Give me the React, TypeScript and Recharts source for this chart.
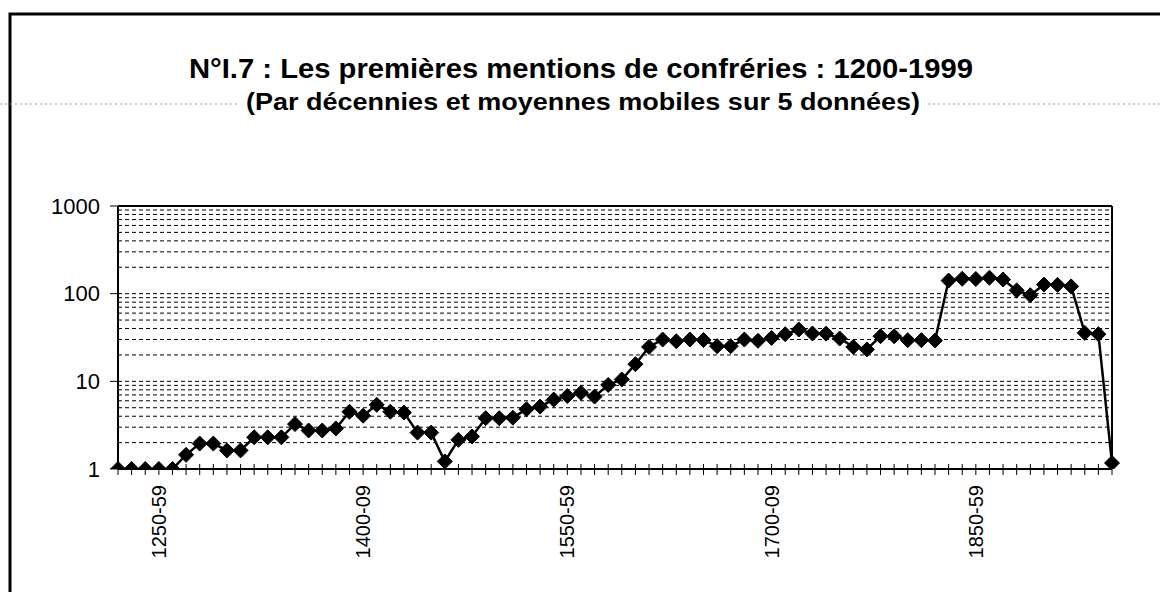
import React from "react";
import { LineChart, Line, XAxis, YAxis, ReferenceLine } from "recharts";

// decades (one point per decade, 5-value moving averages)
const decades = [
  "1220-29", "1230-39", "1240-49", "1250-59", "1260-69", "1270-79", "1280-89", "1290-99",
  "1300-09", "1310-19", "1320-29", "1330-39", "1340-49", "1350-59", "1360-69", "1370-79",
  "1380-89", "1390-99", "1400-09", "1410-19", "1420-29", "1430-39", "1440-49", "1450-59",
  "1460-69", "1470-79", "1480-89", "1490-99", "1500-09", "1510-19", "1520-29", "1530-39",
  "1540-49", "1550-59", "1560-69", "1570-79", "1580-89", "1590-99", "1600-09", "1610-19",
  "1620-29", "1630-39", "1640-49", "1650-59", "1660-69", "1670-79", "1680-89", "1690-99",
  "1700-09", "1710-19", "1720-29", "1730-39", "1740-49", "1750-59", "1760-69", "1770-79",
  "1780-89", "1790-99", "1800-09", "1810-19", "1820-29", "1830-39", "1840-49", "1850-59",
  "1860-69", "1870-79", "1880-89", "1890-99", "1900-09", "1910-19", "1920-29", "1930-39",
  "1940-49", "1950-59",
];

const mentions = [
  1, 1, 1, 1, 1, 1.45, 1.95, 1.95,
  1.63, 1.63, 2.3, 2.3, 2.3, 3.25, 2.75, 2.75,
  2.9, 4.5, 4.05, 5.4, 4.5, 4.4, 2.6, 2.6,
  1.22, 2.15, 2.35, 3.8, 3.8, 3.85, 4.8, 5.15,
  6.2, 6.8, 7.4, 6.7, 9.1, 10.5, 15.7, 24.7,
  30, 28.7, 30, 29.6, 25.2, 25.2, 30, 29,
  31.3, 34.5, 39, 35.1, 35, 30.8, 24.7, 23.1,
  32.7, 32.7, 29.5, 29.5, 29.2, 141, 148, 147,
  152, 145, 109, 96, 127, 126, 121, 35.7,
  34.5, 1.17,
];

const labelledDecades = ["1250-59", "1400-09", "1550-59", "1700-09", "1850-59"];
const yTicks = [1, 10, 100, 1000];
const gridLevels = [
  2, 3, 4, 5, 6, 7, 8, 9, 10,
  20, 30, 40, 50, 60, 70, 80, 90, 100,
  200, 300, 400, 500, 600, 700, 800, 900,
];

const data = decades.map((d, i) => ({ decade: d, value: mentions[i] }));

const font = "'Liberation Sans', Arial, Helvetica, sans-serif";

function DecadeTick(props: any) {
  const { x, y, payload } = props;
  const show = labelledDecades.includes(payload.value);
  return (
    <g>
      <line x1={x} x2={x} y1={y - 5} y2={y + 6} stroke="#000" strokeWidth={1} />
      {show && (
        <text
          x={x + 7}
          y={y + 16}
          transform={`rotate(-90 ${x + 7} ${y + 16})`}
          textAnchor="end"
          fontSize={20}
          fontFamily={font}
          fill="#000"
        >
          {payload.value}
        </text>
      )}
    </g>
  );
}

function Diamond(props: any) {
  const { cx, cy } = props;
  if (cx == null || cy == null) return null;
  return (
    <path
      d={`M${cx},${cy - 7.5} L${cx + 7.5},${cy} L${cx},${cy + 7.5} L${cx - 7.5},${cy} Z`}
      fill="#000"
      stroke="#000"
      strokeWidth={1}
    />
  );
}

export default function App() {
  return (
    <div
      style={{
        position: "absolute",
        left: 0,
        top: 0,
        width: 1160,
        height: 592,
        background: "#fff",
        overflow: "hidden",
      }}
    >
      <svg
        width={1160}
        height={592}
        style={{ position: "absolute", left: 0, top: 0 }}
      >
        <rect x={10} y={14} width={1200} height={700} fill="none" stroke="#000" strokeWidth={3} />
        <line x1={0} x2={240} y1={104} y2={104} stroke="#999" strokeWidth={1} strokeDasharray="2 3" />
        <line x1={928} x2={1160} y1={104} y2={104} stroke="#999" strokeWidth={1} strokeDasharray="2 3" />
        <text
          x={581}
          y={78}
          textAnchor="middle"
          fontSize={28}
          fontWeight="bold"
          fontFamily={font}
          textLength={784}
          lengthAdjust="spacingAndGlyphs"
        >
          N°I.7 : Les premières mentions de confréries : 1200-1999
        </text>
        <text
          x={583}
          y={110}
          textAnchor="middle"
          fontSize={24}
          fontWeight="bold"
          fontFamily={font}
          textLength={674}
          lengthAdjust="spacingAndGlyphs"
        >
          (Par décennies et moyennes mobiles sur 5 données)
        </text>
      </svg>
      <div style={{ position: "absolute", left: 0, top: 0 }}>
        <LineChart
          width={1160}
          height={592}
          data={data}
          margin={{ top: 206, right: 48, left: 0, bottom: 0 }}
        >
          <XAxis
            dataKey="decade"
            interval={0}
            height={123}
            tickSize={0}
            tickMargin={0}
            tickLine={false}
            tick={<DecadeTick />}
            axisLine={{ stroke: "#000", strokeWidth: 2 }}
          />
          <YAxis
            scale="log"
            domain={[1, 1000]}
            ticks={yTicks}
            allowDataOverflow
            width={118}
            tickSize={8}
            tickMargin={10}
            tickLine={{ stroke: "#000", strokeWidth: 1 }}
            axisLine={{ stroke: "#000", strokeWidth: 2 }}
            tick={{ fontSize: 22, fill: "#000", fontFamily: font }}
            tickFormatter={(v: number) => String(v)}
          />
          {gridLevels.map((g) => (
            <ReferenceLine
              key={g}
              y={g}
              stroke="#000"
              strokeWidth={1}
              strokeDasharray="4 3"
              ifOverflow="hidden"
            />
          ))}
          <ReferenceLine y={1000} stroke="#000" strokeWidth={2} />
          <ReferenceLine x={decades[decades.length - 1]} stroke="#000" strokeWidth={2} />
          <Line
            type="linear"
            dataKey="value"
            stroke="#000"
            strokeWidth={2.5}
            dot={<Diamond />}
            activeDot={false}
            isAnimationActive={false}
          />
        </LineChart>
      </div>
    </div>
  );
}
